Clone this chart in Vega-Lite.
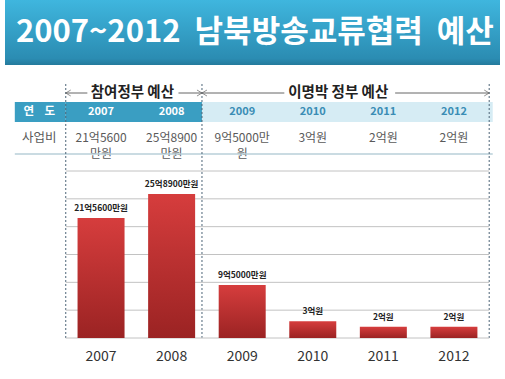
{
  "$schema": "https://vega.github.io/schema/vega-lite/v6.json",
  "width": 505,
  "height": 379,
  "autosize": "none",
  "padding": 0,
  "background": "white",
  "config": {"view": {"stroke": null}, "font": "Noto Sans CJK KR", "text": {"font": "Noto Sans CJK KR"}},
  "datasets": {
    "budget": [
      {"year": 2007, "period": "참여정부", "value": 21.56, "barLabel": "21억5600만원", "cell": "21억5600\n만원"},
      {"year": 2008, "period": "참여정부", "value": 25.89, "barLabel": "25억8900만원", "cell": "25억8900\n만원"},
      {"year": 2009, "period": "이명박 정부", "value": 9.5, "barLabel": "9억5000만원", "cell": "9억5000만\n원"},
      {"year": 2010, "period": "이명박 정부", "value": 3, "barLabel": "3억원", "cell": "3억원"},
      {"year": 2011, "period": "이명박 정부", "value": 2, "barLabel": "2억원", "cell": "2억원"},
      {"year": 2012, "period": "이명박 정부", "value": 2, "barLabel": "2억원", "cell": "2억원"}
    ],
    "periods": [
      {"period": "참여정부", "title": "참여정부 예산", "start": 2006.5, "end": 2008.43},
      {"period": "이명박 정부", "title": "이명박 정부 예산", "start": 2008.43, "end": 2012.55}
    ],
    "boundaries": [{"b": 2006.5}, {"b": 2008.43}, {"b": 2012.5}],
    "grid": [{"g": 0}, {"g": 5}, {"g": 10}, {"g": 15}, {"g": 20}, {"g": 25}, {"g": 30}]
  },
  "resolve": {"scale": {"y": "independent", "color": "independent"}},
  "layer": [
    {
      "data": {"values": [{"t": "2007~2012 남북방송교류협력 예산"}]},
      "mark": {"type": "rect", "fill": {"gradient": "linear", "x1": 0, "y1": 0, "x2": 0, "y2": 1, "stops": [{"offset": 0, "color": "#3fb6de"}, {"offset": 0.9, "color": "#2b8cb2"}, {"offset": 1, "color": "#247a9c"}]}},
      "encoding": {
        "x": {"datum": 2005.639, "type": "quantitative", "scale": {"domain": [2005.639, 2012.653], "zero": false, "nice": false}, "axis": null},
        "x2": {"datum": 2012.653},
        "y": {"field": "t", "type": "nominal", "scale": {"range": [0, 65], "paddingInner": 0, "paddingOuter": 0}, "axis": null}
      }
    },
    {
      "data": {"values": [{"t": "2007~2012\u00a0\u00a0남북방송교류협력\u00a0\u00a0예산"}]},
      "mark": {"type": "text", "fontSize": 31, "fontWeight": "bold", "color": "white", "align": "center", "baseline": "middle"},
      "encoding": {
        "x": {"datum": 2009.18, "type": "quantitative", "scale": {"domain": [2005.639, 2012.653], "zero": false, "nice": false}, "axis": null},
        "y": {"field": "t", "type": "nominal", "scale": {"range": [0, 65]}, "axis": null},
        "text": {"field": "t"}
      }
    },
    {
      "data": {"values": [{"row": "연 도"}]},
      "mark": {"type": "rect", "fill": "#3a9ec2"},
      "encoding": {
        "x": {"datum": 2005.778, "type": "quantitative", "scale": {"domain": [2005.639, 2012.653], "zero": false, "nice": false}, "axis": null},
        "x2": {"datum": 2006.5},
        "y": {"field": "row", "type": "nominal", "scale": {"range": [102, 122], "paddingInner": 0, "paddingOuter": 0}, "axis": null}
      }
    },
    {
      "data": {"name": "periods"},
      "mark": {"type": "rect"},
      "encoding": {
        "x": {"field": "start", "type": "quantitative", "scale": {"domain": [2005.639, 2012.653], "zero": false, "nice": false}, "axis": null},
        "x2": {"field": "end"},
        "y": {"datum": "연 도", "type": "nominal", "scale": {"range": [102, 122], "paddingInner": 0, "paddingOuter": 0}, "axis": null},
        "color": {"field": "period", "type": "nominal", "scale": {"domain": ["참여정부", "이명박 정부"], "range": ["#3a9ec2", "#d6ecf4"]}, "legend": null}
      }
    },
    {
      "data": {"values": [{"row": "연\u00a0\u00a0\u00a0\u00a0도"}]},
      "mark": {"type": "text", "fontSize": 11.5, "fontWeight": "bold", "color": "white", "align": "center", "baseline": "middle"},
      "encoding": {
        "x": {"datum": 2006.125, "type": "quantitative", "scale": {"domain": [2005.639, 2012.653], "zero": false, "nice": false}, "axis": null},
        "y": {"field": "row", "type": "nominal", "scale": {"range": [102, 122]}, "axis": null},
        "text": {"field": "row"}
      }
    },
    {
      "data": {"name": "budget"},
      "mark": {"type": "text", "fontSize": 11, "fontWeight": "bold", "align": "center", "baseline": "middle"},
      "encoding": {
        "x": {"field": "year", "type": "quantitative", "scale": {"domain": [2005.639, 2012.653], "zero": false, "nice": false}, "axis": null},
        "y": {"datum": "연 도", "type": "nominal", "scale": {"range": [102, 122]}, "axis": null},
        "text": {"field": "year", "type": "quantitative", "format": "d"},
        "color": {"field": "period", "type": "nominal", "scale": {"domain": ["참여정부", "이명박 정부"], "range": ["#ffffff", "#3a8db5"]}, "legend": null}
      }
    },
    {
      "data": {"values": [{"row": "사업비"}]},
      "mark": {"type": "text", "fontSize": 12.5, "color": "#5a5a5a", "align": "center", "baseline": "middle"},
      "encoding": {
        "x": {"datum": 2006.125, "type": "quantitative", "scale": {"domain": [2005.639, 2012.653], "zero": false, "nice": false}, "axis": null},
        "y": {"field": "row", "type": "nominal", "scale": {"range": [122, 154]}, "axis": null},
        "text": {"field": "row"}
      }
    },
    {
      "data": {"name": "budget"},
      "mark": {"type": "text", "fontSize": 12, "color": "#5a5a5a", "align": "center", "baseline": "middle", "lineBreak": "\n", "lineHeight": 16},
      "encoding": {
        "x": {"field": "year", "type": "quantitative", "scale": {"domain": [2005.639, 2012.653], "zero": false, "nice": false}, "axis": null},
        "y": {"datum": "사업비", "type": "nominal", "scale": {"range": [122, 154]}, "axis": null},
        "text": {"field": "cell"}
      }
    },
    {
      "data": {"values": [{"row": "사업비"}]},
      "mark": {"type": "rule", "stroke": "#b9cfd9", "strokeWidth": 1.5},
      "encoding": {
        "x": {"datum": 2005.778, "type": "quantitative", "scale": {"domain": [2005.639, 2012.653], "zero": false, "nice": false}, "axis": null},
        "x2": {"datum": 2012.55},
        "y": {"field": "row", "type": "nominal", "bandPosition": 1, "scale": {"type": "band", "range": [122, 154], "paddingInner": 0, "paddingOuter": 0}, "axis": null}
      }
    },
    {
      "data": {"name": "boundaries"},
      "mark": {"type": "rule", "stroke": "#4d6577", "strokeWidth": 1, "strokeDash": [2, 2]},
      "encoding": {
        "x": {"field": "b", "type": "quantitative", "scale": {"domain": [2005.639, 2012.653], "zero": false, "nice": false}, "axis": null},
        "y": {"datum": 0, "type": "quantitative", "scale": {"domain": [0, 1], "range": [338, 82]}, "axis": null},
        "y2": {"datum": 1}
      }
    },
    {
      "data": {"values": [{"a": "참여정부", "from": 2006.5, "to": 2006.806}, {"a": "참여정부", "from": 2008.097, "to": 2008.43}, {"a": "이명박 정부", "from": 2008.43, "to": 2009.597}, {"a": "이명박 정부", "from": 2011.167, "to": 2012.5}]},
      "mark": {"type": "rule", "stroke": "#666666", "strokeWidth": 1},
      "encoding": {
        "x": {"field": "from", "type": "quantitative", "scale": {"domain": [2005.639, 2012.653], "zero": false, "nice": false}, "axis": null},
        "x2": {"field": "to"},
        "y": {"datum": "annot", "type": "nominal", "scale": {"range": [82, 104]}, "axis": null}
      }
    },
    {
      "data": {"values": [{"p": 2006.5}, {"p": 2008.43}]},
      "mark": {"type": "point", "shape": "M2.5,-1.5L0,0L2.5,1.5", "size": 16, "filled": false, "stroke": "#666666", "strokeWidth": 1},
      "encoding": {
        "x": {"field": "p", "type": "quantitative", "scale": {"domain": [2005.639, 2012.653], "zero": false, "nice": false}, "axis": null},
        "y": {"datum": "annot", "type": "nominal", "scale": {"range": [82, 104]}, "axis": null}
      }
    },
    {
      "data": {"values": [{"p": 2008.43}, {"p": 2012.5}]},
      "mark": {"type": "point", "shape": "M-2.5,-1.5L0,0L-2.5,1.5", "size": 16, "filled": false, "stroke": "#666666", "strokeWidth": 1},
      "encoding": {
        "x": {"field": "p", "type": "quantitative", "scale": {"domain": [2005.639, 2012.653], "zero": false, "nice": false}, "axis": null},
        "y": {"datum": "annot", "type": "nominal", "scale": {"range": [82, 104]}, "axis": null}
      }
    },
    {
      "data": {"values": [{"t": "참여정부 예산", "c": 2007.444}, {"t": "이명박 정부 예산", "c": 2010.361}]},
      "mark": {"type": "text", "fontSize": 14.5, "fontWeight": "bold", "color": "#222222", "align": "center", "baseline": "middle"},
      "encoding": {
        "x": {"field": "c", "type": "quantitative", "scale": {"domain": [2005.639, 2012.653], "zero": false, "nice": false}, "axis": null},
        "y": {"datum": "annot", "type": "nominal", "scale": {"range": [82, 104]}, "axis": null},
        "text": {"field": "t"}
      }
    },
    {
      "data": {"name": "grid"},
      "mark": {"type": "rule", "stroke": "#c2c2c2", "strokeWidth": 1},
      "encoding": {
        "x": {"datum": 2006.5, "type": "quantitative", "scale": {"domain": [2005.639, 2012.653], "zero": false, "nice": false}, "axis": null},
        "x2": {"datum": 2012.5},
        "y": {"field": "g", "type": "quantitative", "scale": {"domain": [0, 30], "range": [338, 171], "nice": false}, "axis": null}
      }
    },
    {
      "data": {"name": "budget"},
      "mark": {"type": "bar", "orient": "vertical", "width": 47, "fill": {"gradient": "linear", "x1": 0, "y1": 0, "x2": 0, "y2": 1, "stops": [{"offset": 0, "color": "#d63d3d"}, {"offset": 1, "color": "#9b2323"}]}},
      "encoding": {
        "x": {"field": "year", "type": "quantitative", "scale": {"domain": [2005.639, 2012.653], "zero": false, "nice": false}, "axis": null},
        "y": {"field": "value", "type": "quantitative", "scale": {"domain": [0, 30], "range": [338, 171], "nice": false}, "axis": null}
      }
    },
    {
      "data": {"name": "budget"},
      "mark": {"type": "text", "fontSize": 8.5, "fontWeight": "bold", "color": "#222222", "align": "center", "baseline": "bottom", "dy": -5},
      "encoding": {
        "x": {"field": "year", "type": "quantitative", "scale": {"domain": [2005.639, 2012.653], "zero": false, "nice": false}, "axis": null},
        "y": {"field": "value", "type": "quantitative", "scale": {"domain": [0, 30], "range": [338, 171], "nice": false}, "axis": null},
        "text": {"field": "barLabel"}
      }
    },
    {
      "data": {"name": "budget"},
      "mark": {"type": "text", "fontSize": 14, "color": "#333333", "align": "center", "baseline": "middle", "dy": 19},
      "encoding": {
        "x": {"field": "year", "type": "quantitative", "scale": {"domain": [2005.639, 2012.653], "zero": false, "nice": false}, "axis": null},
        "y": {"datum": 0, "type": "quantitative", "scale": {"domain": [0, 30], "range": [338, 171], "nice": false}, "axis": null},
        "text": {"field": "year", "type": "quantitative", "format": "d"}
      }
    }
  ]
}
